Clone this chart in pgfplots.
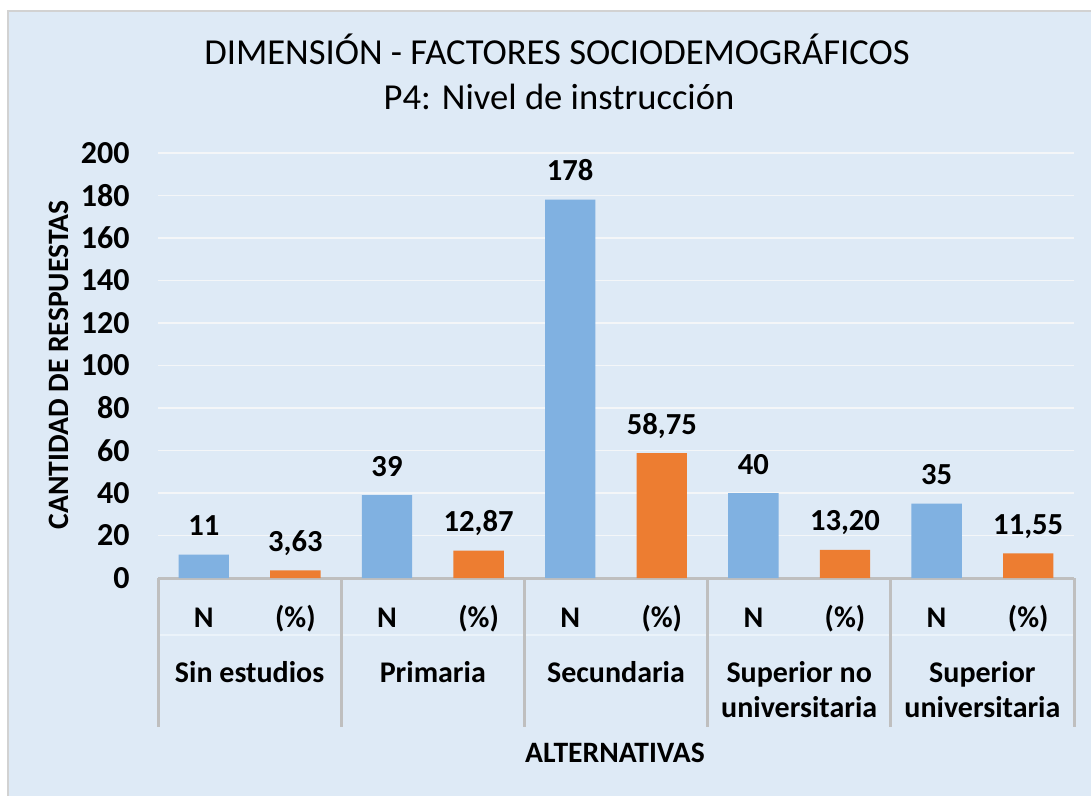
\documentclass[border=0pt]{standalone}
\usepackage{pgfplots}
\pgfplotsset{compat=1.18}
\usepackage{pgfplotstable}
\usepackage{fontspec}
\setmainfont{Carlito}
\definecolor{bg}{HTML}{DEEAF6}
\definecolor{bblue}{HTML}{80B1E1}
\definecolor{borange}{HTML}{ED7D31}
\definecolor{sep}{HTML}{BFBFBF}
\definecolor{grd}{HTML}{F4F6F8}

\pgfplotstableread{
x y lab
0 11 11
2 39 39
4 178 178
6 40 40
8 35 35
}\tN
\pgfplotstableread{
x y lab
1 3.63 3,63
3 12.87 12,87
5 58.75 58,75
7 13.20 13,20
9 11.55 11,55
}\tP

\begin{document}
\begin{tikzpicture}
\begin{scope}[x=0.5pt,y=-0.5pt]
\useasboundingbox (0,0) rectangle (1091,796);
\fill[white] (0,0) rectangle (1091,796);
\fill[bg] (8,11) rectangle (1091,796);
\draw[sep!70, line width=1.2pt] (8,796) -- (8,11) -- (1091,11);
\node[font=\fontsize{18.3}{22}\selectfont, anchor=base] at (557,65) {DIMENSIÓN - FACTORES SOCIODEMOGRÁFICOS};
\node[font=\fontsize{18.3}{22}\selectfont, anchor=base] at (559,110) {P4: Nivel de instrucción};
\node[font=\bfseries\fontsize{14.8}{17}\selectfont, anchor=base] at (615,762) {ALTERNATIVAS};
\node[font=\bfseries\fontsize{14.8}{17}\selectfont, rotate=90] at (59,365) {CANTIDAD DE RESPUESTAS};
\end{scope}
\begin{axis}[
  at={(79pt,-289pt)}, anchor=south west,
  scale only axis, width=458pt, height=212.5pt,
  xmin=-0.5, xmax=9.5, ymin=0, ymax=200,
  clip=false,
  axis x line*=bottom, axis y line*=left,
  y axis line style={draw=none},
  x axis line style={sep, line width=1.5pt},
  ytick={0,20,...,200},
  xtick={0,...,9},
  xticklabels={N,(\%),N,(\%),N,(\%),N,(\%),N,(\%)},
  major tick length=0pt,
  ymajorgrids, grid style={grd, line width=0.75pt},
  /pgf/number format/assume math mode=true,
  yticklabel style={font=\bfseries\fontsize{16}{19}\selectfont, anchor=east, inner sep=0pt, xshift=-14pt},
  xticklabel style={font=\bfseries\fontsize{15}{17}\selectfont, anchor=base, inner sep=0pt, yshift=-24.5pt},
]
\addplot[ybar, bar width=0.55, bar shift=0pt, fill=bblue, draw=none] table[x=x,y=y]{\tN};
\addplot[ybar, bar width=0.55, bar shift=0pt, fill=borange, draw=none] table[x=x,y=y]{\tP};
\addplot[draw=none, mark=none, nodes near coords, point meta=explicit symbolic,
  every node near coord/.append style={anchor=base, inner sep=0pt, yshift=9.5pt, font=\bfseries\fontsize{15.3}{18}\selectfont}]
  table[x=x,y=y,meta=lab]{\tN};
\addplot[draw=none, mark=none, nodes near coords, point meta=explicit symbolic,
  every node near coord/.append style={anchor=base, inner sep=0pt, yshift=9.5pt, font=\bfseries\fontsize{15.3}{18}\selectfont}]
  table[x=x,y=y,meta=lab]{\tP};
\draw[bg!60!white, line width=0.75pt] ([yshift=-28.5pt]axis cs:-0.5,0) -- ([yshift=-28.5pt]axis cs:9.5,0);
\draw[sep, line width=1.5pt] (axis cs:-0.5,0) -- ++(0pt,-74.5pt);
\draw[sep, line width=1.5pt] (axis cs:1.5,0) -- ++(0pt,-74.5pt);
\draw[sep, line width=1.5pt] (axis cs:3.5,0) -- ++(0pt,-74.5pt);
\draw[sep, line width=1.5pt] (axis cs:5.5,0) -- ++(0pt,-74.5pt);
\draw[sep, line width=1.5pt] (axis cs:7.5,0) -- ++(0pt,-74.5pt);
\draw[sep, line width=1.5pt] (axis cs:9.5,0) -- ++(0pt,-74.5pt);
\begin{scope}[font=\bfseries\fontsize{15}{17}\selectfont]
\node[anchor=base] at ([yshift=-52pt]axis cs:0.5,0) {Sin estudios};
\node[anchor=base] at ([yshift=-52pt]axis cs:2.5,0) {Primaria};
\node[anchor=base] at ([yshift=-52pt]axis cs:4.5,0) {Secundaria};
\node[anchor=base] at ([yshift=-52pt]axis cs:6.5,0) {Superior no};
\node[anchor=base] at ([yshift=-69.5pt]axis cs:6.5,0) {universitaria};
\node[anchor=base] at ([yshift=-52pt]axis cs:8.5,0) {Superior};
\node[anchor=base] at ([yshift=-69.5pt]axis cs:8.5,0) {universitaria};
\end{scope}
\end{axis}
\end{tikzpicture}
\end{document}
